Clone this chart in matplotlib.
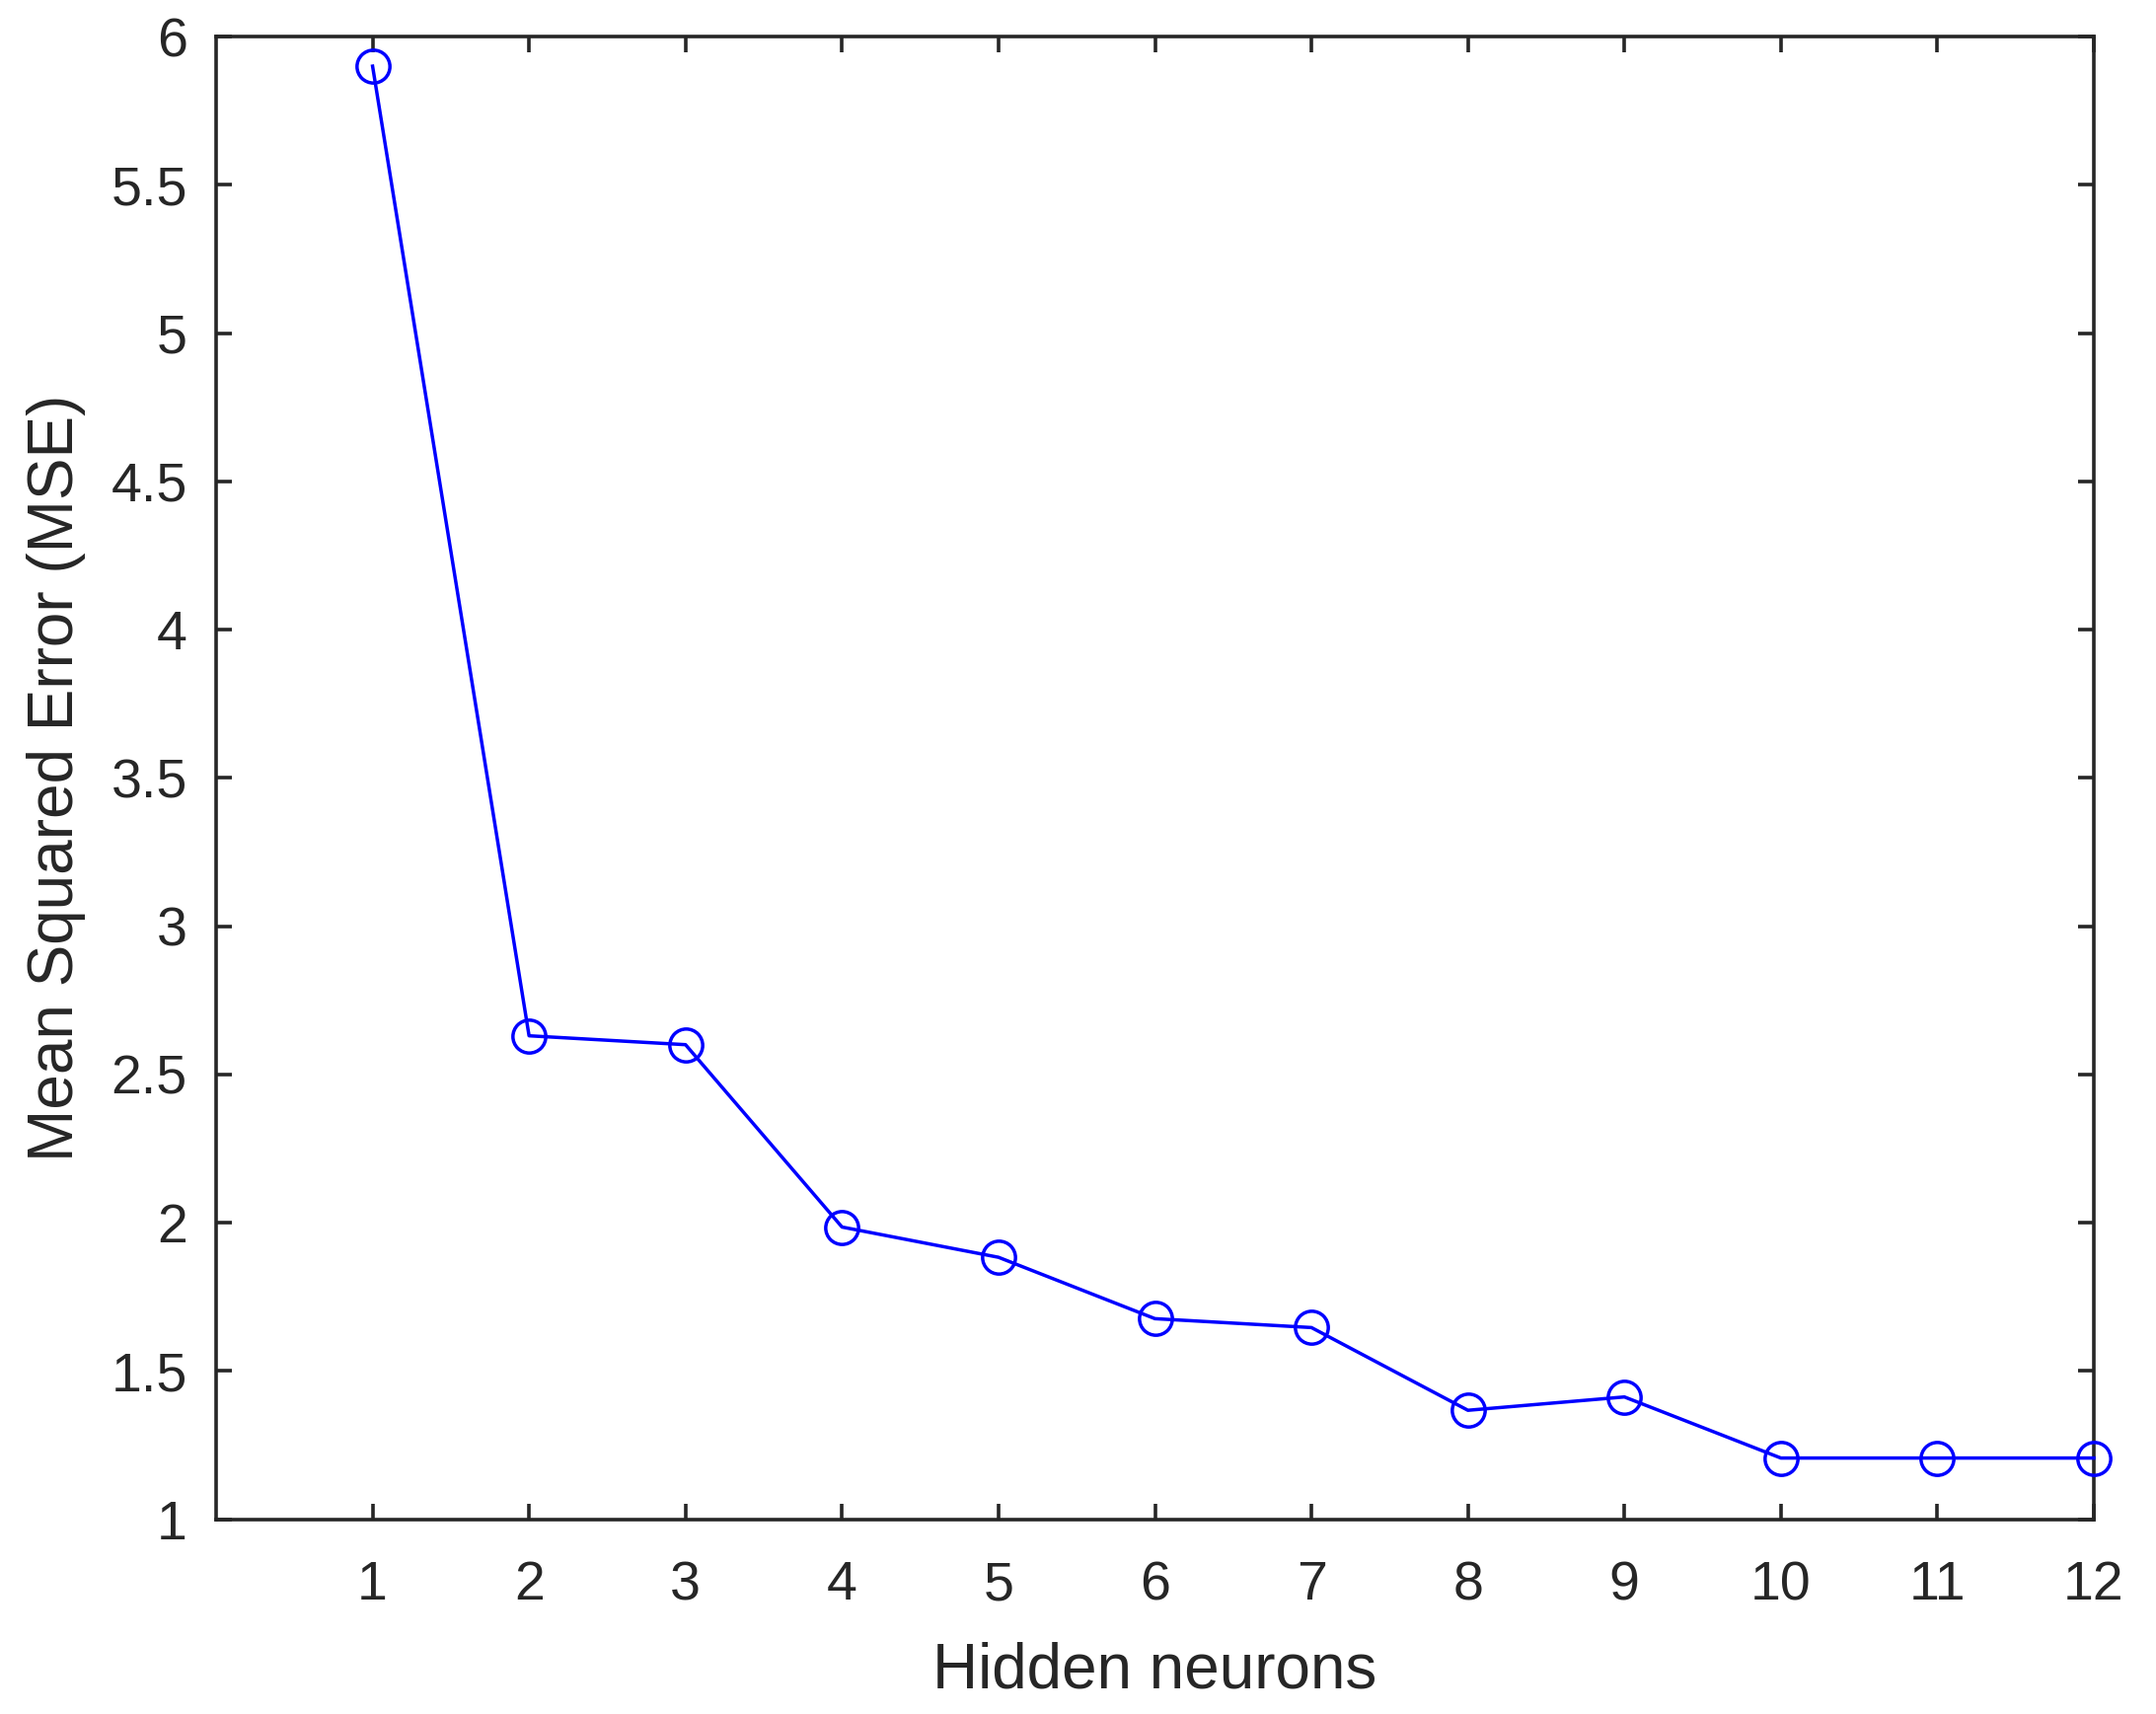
import matplotlib
matplotlib.use("Agg")
import matplotlib.pyplot as plt

# MSE for each number of hidden neurons
neurons = [1, 2, 3, 4, 5, 6, 7, 8, 9, 10, 11, 12]
mse = [5.90, 2.63, 2.60, 1.985, 1.883, 1.676, 1.646, 1.367, 1.412, 1.206, 1.206, 1.206]

y_ticks = [1, 1.5, 2, 2.5, 3, 3.5, 4, 4.5, 5, 5.5, 6]
y_tick_labels = ["1", "1.5", "2", "2.5", "3", "3.5", "4", "4.5", "5", "5.5", "6"]

plt.rcParams["font.family"] = ["Liberation Sans", "DejaVu Sans"]
text_col = "#262626"

fig = plt.figure(figsize=(21.85, 17.37), dpi=100)
ax = fig.add_axes([219 / 2185, 1 - 1539.5 / 1737, (2122 - 219) / 2185, (1539.5 - 37) / 1737])

ax.plot(neurons, mse, color="#0000FF", linewidth=2.5, marker="o",
        markersize=24, markerfacecolor="none", markeredgewidth=2.5,
        markeredgecolor="#0000FF", clip_on=False, zorder=3)

ax.set_xlim(0, 12)
ax.set_ylim(1, 6)
ax.set_xticks(neurons)
ax.set_xticklabels([str(n) for n in neurons])
ax.set_yticks(y_ticks)
ax.set_yticklabels(y_tick_labels)

for s in ax.spines.values():
    s.set_linewidth(2.6)
    s.set_color(text_col)

ax.tick_params(axis="both", which="major", direction="in", length=11.3,
               width=2.6, color=text_col, labelcolor=text_col, labelsize=40,
               top=True, right=True)
ax.tick_params(axis="x", pad=30)
ax.tick_params(axis="y", pad=21)

ax.set_xlabel("Hidden neurons", fontsize=46, color=text_col, labelpad=22)
ax.set_ylabel("Mean Squared Error (MSE)", fontsize=46, color=text_col, labelpad=18)

fig.savefig("out.png", dpi=100, facecolor="white")
